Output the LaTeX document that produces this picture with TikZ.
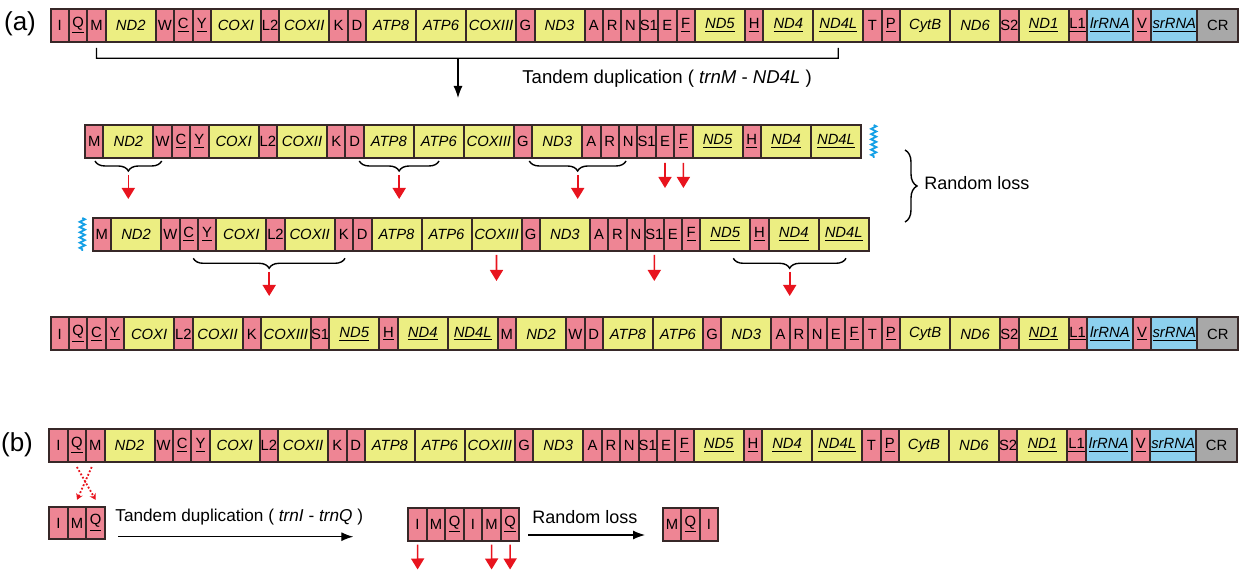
\documentclass[tikz,border=0pt]{standalone}
\usepackage{fontspec}
\setmainfont{Liberation Sans}
\usetikzlibrary{arrows,arrows.meta,positioning,decorations.pathreplacing,decorations.pathmorphing}
\definecolor{trnapink}{RGB}{238,133,148}
\definecolor{geneyellow}{RGB}{236,238,130}
\definecolor{rrnablue}{RGB}{140,208,238}
\definecolor{crgray}{RGB}{168,168,168}
\definecolor{border}{RGB}{55,40,40}
\definecolor{lossred}{RGB}{232,20,30}
\definecolor{zigblue}{RGB}{20,160,230}

\begin{document}
\begin{tikzpicture}[x=0.5pt,y=-0.5pt,node distance=0pt]
        \tikzset{box/.style = {draw=border,line width=1pt,minimum height=16.5pt,inner sep=0pt,outer sep=0pt,font=\fontsize{7.4}{8}\selectfont}}
        \tikzset{trna/.style = {box,fill=trnapink,minimum width=9.2pt}}
        \tikzset{gene/.style = {box,fill=geneyellow,minimum width=25pt,font=\fontsize{7.4}{8}\selectfont\itshape}}
        \tikzset{rrna/.style = {box,fill=rrnablue,minimum width=23pt,font=\fontsize{7.4}{8}\selectfont\itshape}}
        \tikzset{ctrl/.style = {box,fill=crgray,minimum width=20.5pt}}
        \tikzset{trnb/.style = {trna,minimum width=9.25pt,minimum height=16.2pt}}
        \tikzset{txt/.style = {anchor=west,inner sep=0pt,font=\fontsize{9}{10}\selectfont}}
        \tikzset{panel/.style = {inner sep=0pt,font=\fontsize{13}{15}\selectfont}}
        \tikzset{edge/.style = {-{Latex[width=4.5pt,length=6pt]},line width=0.6pt}}
        \tikzset{loss/.style = {-{Triangle[width=6.5pt,length=5.5pt]},draw=lossred,line width=0.8pt}}
        \tikzset{moved/.style = {-{Stealth[width=3.5pt,length=3pt]},draw=lossred,densely dotted,line width=0.9pt}}
        \tikzset{curly/.style = {decorate,decoration={brace,amplitude=5pt,mirror},line width=0.7pt}}
        \tikzset{bigcurly/.style = {decorate,decoration={brace,amplitude=6pt},line width=0.7pt}}
        \tikzset{zig/.style = {decorate,decoration={zigzag,segment length=2.6pt,amplitude=1.3pt},draw=zigblue,line width=0.9pt}}
        \useasboundingbox (0,0) rectangle (1239,572);
        % panel labels
        \node[panel] (pa) at (20,23.5) {(a)};
        \node[panel] (pb) at (17,444.5) {(b)};
        % genome (a)
        \node[trna,anchor=west] (a1) at (50.5,25.5) {I};
        \node[trna,right=of a1] (a2) {\underline{Q}};
        \node[trna,right=of a2] (a3) {M};
        \node[gene,right=of a3] (a4) {ND2};
        \node[trna,right=of a4] (a5) {W};
        \node[trna,right=of a5] (a6) {\underline{C}};
        \node[trna,right=of a6] (a7) {\underline{Y}};
        \node[gene,right=of a7] (a8) {COXI};
        \node[trna,right=of a8] (a9) {L2};
        \node[gene,right=of a9] (a10) {COXII};
        \node[trna,right=of a10] (a11) {K};
        \node[trna,right=of a11] (a12) {D};
        \node[gene,right=of a12] (a13) {ATP8};
        \node[gene,right=of a13] (a14) {ATP6};
        \node[gene,right=of a14] (a15) {COXIII};
        \node[trna,right=of a15] (a16) {G};
        \node[gene,right=of a16] (a17) {ND3};
        \node[trna,right=of a17] (a18) {A};
        \node[trna,right=of a18] (a19) {R};
        \node[trna,right=of a19] (a20) {N};
        \node[trna,right=of a20] (a21) {S1};
        \node[trna,right=of a21] (a22) {E};
        \node[trna,right=of a22] (a23) {\underline{F}};
        \node[gene,right=of a23] (a24) {\underline{ND5}};
        \node[trna,right=of a24] (a25) {\underline{H}};
        \node[gene,right=of a25] (a26) {\underline{ND4}};
        \node[gene,right=of a26] (a27) {\underline{ND4L}};
        \node[trna,right=of a27] (a28) {T};
        \node[trna,right=of a28] (a29) {\underline{P}};
        \node[gene,right=of a29] (a30) {CytB};
        \node[gene,right=of a30] (a31) {ND6};
        \node[trna,right=of a31] (a32) {S2};
        \node[gene,right=of a32] (a33) {\underline{ND1}};
        \node[trna,right=of a33] (a34) {\underline{L1}};
        \node[rrna,right=of a34] (a35) {\underline{lrRNA}};
        \node[trna,right=of a35] (a36) {\underline{V}};
        \node[rrna,right=of a36] (a37) {\underline{srRNA}};
        \node[ctrl,right=of a37] (a38) {CR};
        % duplicated copy, first half
        \node[trna,anchor=west] (d1) at (85,141.3) {M};
        \node[gene,right=of d1] (d2) {ND2};
        \node[trna,right=of d2] (d3) {W};
        \node[trna,right=of d3] (d4) {\underline{C}};
        \node[trna,right=of d4] (d5) {\underline{Y}};
        \node[gene,right=of d5] (d6) {COXI};
        \node[trna,right=of d6] (d7) {L2};
        \node[gene,right=of d7] (d8) {COXII};
        \node[trna,right=of d8] (d9) {K};
        \node[trna,right=of d9] (d10) {D};
        \node[gene,right=of d10] (d11) {ATP8};
        \node[gene,right=of d11] (d12) {ATP6};
        \node[gene,right=of d12] (d13) {COXIII};
        \node[trna,right=of d13] (d14) {G};
        \node[gene,right=of d14] (d15) {ND3};
        \node[trna,right=of d15] (d16) {A};
        \node[trna,right=of d16] (d17) {R};
        \node[trna,right=of d17] (d18) {N};
        \node[trna,right=of d18] (d19) {S1};
        \node[trna,right=of d19] (d20) {E};
        \node[trna,right=of d20] (d21) {\underline{F}};
        \node[gene,right=of d21] (d22) {\underline{ND5}};
        \node[trna,right=of d22] (d23) {\underline{H}};
        \node[gene,right=of d23] (d24) {\underline{ND4}};
        \node[gene,right=of d24] (d25) {\underline{ND4L}};
        % duplicated copy, second half
        \node[trna,anchor=west] (e1) at (92.7,234.5) {M};
        \node[gene,right=of e1] (e2) {ND2};
        \node[trna,right=of e2] (e3) {W};
        \node[trna,right=of e3] (e4) {\underline{C}};
        \node[trna,right=of e4] (e5) {\underline{Y}};
        \node[gene,right=of e5] (e6) {COXI};
        \node[trna,right=of e6] (e7) {L2};
        \node[gene,right=of e7] (e8) {COXII};
        \node[trna,right=of e8] (e9) {K};
        \node[trna,right=of e9] (e10) {D};
        \node[gene,right=of e10] (e11) {ATP8};
        \node[gene,right=of e11] (e12) {ATP6};
        \node[gene,right=of e12] (e13) {COXIII};
        \node[trna,right=of e13] (e14) {G};
        \node[gene,right=of e14] (e15) {ND3};
        \node[trna,right=of e15] (e16) {A};
        \node[trna,right=of e16] (e17) {R};
        \node[trna,right=of e17] (e18) {N};
        \node[trna,right=of e18] (e19) {S1};
        \node[trna,right=of e19] (e20) {E};
        \node[trna,right=of e20] (e21) {\underline{F}};
        \node[gene,right=of e21] (e22) {\underline{ND5}};
        \node[trna,right=of e22] (e23) {\underline{H}};
        \node[gene,right=of e23] (e24) {\underline{ND4}};
        \node[gene,right=of e24] (e25) {\underline{ND4L}};
        % rearranged genome
        \node[trna,anchor=west] (n1) at (50.5,334) {I};
        \node[trna,right=of n1] (n2) {\underline{Q}};
        \node[trna,right=of n2] (n3) {\underline{C}};
        \node[trna,right=of n3] (n4) {\underline{Y}};
        \node[gene,right=of n4] (n5) {COXI};
        \node[trna,right=of n5] (n6) {L2};
        \node[gene,right=of n6] (n7) {COXII};
        \node[trna,right=of n7] (n8) {K};
        \node[gene,right=of n8] (n9) {COXIII};
        \node[trna,right=of n9] (n10) {S1};
        \node[gene,right=of n10] (n11) {\underline{ND5}};
        \node[trna,right=of n11] (n12) {\underline{H}};
        \node[gene,right=of n12] (n13) {\underline{ND4}};
        \node[gene,right=of n13] (n14) {\underline{ND4L}};
        \node[trna,right=of n14] (n15) {M};
        \node[gene,right=of n15] (n16) {ND2};
        \node[trna,right=of n16] (n17) {W};
        \node[trna,right=of n17] (n18) {D};
        \node[gene,right=of n18] (n19) {ATP8};
        \node[gene,right=of n19] (n20) {ATP6};
        \node[trna,right=of n20] (n21) {G};
        \node[gene,right=of n21] (n22) {ND3};
        \node[trna,right=of n22] (n23) {A};
        \node[trna,right=of n23] (n24) {R};
        \node[trna,right=of n24] (n25) {N};
        \node[trna,right=of n25] (n26) {E};
        \node[trna,right=of n26] (n27) {\underline{F}};
        \node[trna,right=of n27] (n28) {T};
        \node[trna,right=of n28] (n29) {\underline{P}};
        \node[gene,right=of n29] (n30) {CytB};
        \node[gene,right=of n30] (n31) {ND6};
        \node[trna,right=of n31] (n32) {S2};
        \node[gene,right=of n32] (n33) {\underline{ND1}};
        \node[trna,right=of n33] (n34) {\underline{L1}};
        \node[rrna,right=of n34] (n35) {\underline{lrRNA}};
        \node[trna,right=of n35] (n36) {\underline{V}};
        \node[rrna,right=of n36] (n37) {\underline{srRNA}};
        \node[ctrl,right=of n37] (n38) {CR};
        % genome (b)
        \node[trna,anchor=west] (b1) at (49.3,445.5) {I};
        \node[trna,right=of b1] (b2) {\underline{Q}};
        \node[trna,right=of b2] (b3) {M};
        \node[gene,right=of b3] (b4) {ND2};
        \node[trna,right=of b4] (b5) {W};
        \node[trna,right=of b5] (b6) {\underline{C}};
        \node[trna,right=of b6] (b7) {\underline{Y}};
        \node[gene,right=of b7] (b8) {COXI};
        \node[trna,right=of b8] (b9) {L2};
        \node[gene,right=of b9] (b10) {COXII};
        \node[trna,right=of b10] (b11) {K};
        \node[trna,right=of b11] (b12) {D};
        \node[gene,right=of b12] (b13) {ATP8};
        \node[gene,right=of b13] (b14) {ATP6};
        \node[gene,right=of b14] (b15) {COXIII};
        \node[trna,right=of b15] (b16) {G};
        \node[gene,right=of b16] (b17) {ND3};
        \node[trna,right=of b17] (b18) {A};
        \node[trna,right=of b18] (b19) {R};
        \node[trna,right=of b19] (b20) {N};
        \node[trna,right=of b20] (b21) {S1};
        \node[trna,right=of b21] (b22) {E};
        \node[trna,right=of b22] (b23) {\underline{F}};
        \node[gene,right=of b23] (b24) {\underline{ND5}};
        \node[trna,right=of b24] (b25) {\underline{H}};
        \node[gene,right=of b25] (b26) {\underline{ND4}};
        \node[gene,right=of b26] (b27) {\underline{ND4L}};
        \node[trna,right=of b27] (b28) {T};
        \node[trna,right=of b28] (b29) {\underline{P}};
        \node[gene,right=of b29] (b30) {CytB};
        \node[gene,right=of b30] (b31) {ND6};
        \node[trna,right=of b31] (b32) {S2};
        \node[gene,right=of b32] (b33) {\underline{ND1}};
        \node[trna,right=of b33] (b34) {\underline{L1}};
        \node[rrna,right=of b34] (b35) {\underline{lrRNA}};
        \node[trna,right=of b35] (b36) {\underline{V}};
        \node[rrna,right=of b36] (b37) {\underline{srRNA}};
        \node[ctrl,right=of b37] (b38) {CR};
        % tRNA cluster steps (b)
        \node[trnb,anchor=west] (s1) at (49.3,523) {I};
        \node[trnb,right=of s1] (s2) {M};
        \node[trnb,right=of s2] (s3) {\underline{Q}};
        \node[trnb,anchor=west] (t1) at (408.3,524.5) {I};
        \node[trnb,right=of t1] (t2) {M};
        \node[trnb,right=of t2] (t3) {\underline{Q}};
        \node[trnb,right=of t3] (t4) {I};
        \node[trnb,right=of t4] (t5) {M};
        \node[trnb,right=of t5] (t6) {\underline{Q}};
        \node[trnb,anchor=west] (u1) at (662.7,524.5) {M};
        \node[trnb,right=of u1] (u2) {\underline{Q}};
        \node[trnb,right=of u2] (u3) {I};
        % texts
        \node[txt,font=\fontsize{9.3}{10}\selectfont] (ta) at (522,79) {Tandem duplication ( \textit{trnM} - \textit{ND4L} )};
        \node[txt] (la) at (924,183) {Random loss};
        \node[txt,font=\fontsize{8.6}{10}\selectfont] (tb) at (115,517) {Tandem duplication ( \textit{trnI} - \textit{trnQ} )};
        \node[txt] (lb) at (532,517) {Random loss};
        % free ends
        \coordinate (m1) at (96.5,58.3);
        \coordinate (m2) at (838.3,58.3);
        \coordinate (m3) at (458,58.3);
        \coordinate (m4) at (458,98);
        \coordinate (k1) at (128.3,175);
        \coordinate (k1e) at (128.3,199);
        \coordinate (k2) at (399.2,175);
        \coordinate (k2e) at (399.2,199);
        \coordinate (k3) at (577.7,175);
        \coordinate (k3e) at (577.7,199);
        \coordinate (k4) at (269.2,272);
        \coordinate (k4e) at (269.2,296);
        \coordinate (k5) at (789.7,272);
        \coordinate (k5e) at (789.7,296);
        \coordinate (x1) at (665,188);
        \coordinate (x2) at (683.4,188);
        \coordinate (x3) at (496.5,281);
        \coordinate (x4) at (654.3,281);
        \coordinate (y1) at (417.6,569.5);
        \coordinate (y2) at (491.6,569.5);
        \coordinate (y3) at (510.1,569.5);
        \coordinate (p1) at (118.3,536.7);
        \coordinate (p2) at (353.3,536.7);
        \coordinate (p3) at (528.3,535);
        \coordinate (p4) at (645,535);
        % braces and breaks
        \draw[curly] (95,161) -- (161.7,161);
        \draw[curly] (359.3,161) -- (439,161);
        \draw[curly] (529.3,161) -- (626,161);
        \draw[curly] (193.3,258.3) -- (345,258.3);
        \draw[curly] (733.3,258.3) -- (846,258.3);
        \draw[bigcurly] (905,150) -- (905,222);
        \draw[zig] (873.7,125) -- (873.7,158);
        \draw[zig] (82.3,218) -- (82.3,251);
        %edges
        \draw[line width=0.6pt] ([yshift=-3pt]a3.south) -- (m1) -- (m2) -- ([yshift=-3pt]a27.south);
        \draw[edge] (m3) -- (m4);
        \draw[loss] (k1) -- (k1e);
        \draw[loss] (k2) -- (k2e);
        \draw[loss] (k3) -- (k3e);
        \draw[loss] (k4) -- (k4e);
        \draw[loss] (k5) -- (k5e);
        \draw[loss,shorten <=2.5pt] (d20) -- (x1);
        \draw[loss,shorten <=2.5pt] (d21) -- (x2);
        \draw[loss,shorten <=2pt] (e13) -- (x3);
        \draw[loss,shorten <=2pt] (e19) -- (x4);
        \draw[moved] ([yshift=-2.5pt]b2.south) -- ([yshift=3.5pt]s3.north);
        \draw[moved] ([xshift=-1.8pt,yshift=-2.5pt]b3.south) -- ([yshift=3.5pt]s2.north);
        \draw[edge] (p1) -- (p2);
        \draw[edge] (p3) -- (p4);
        \draw[loss,shorten <=2pt] (t1) -- (y1);
        \draw[loss,shorten <=2pt] (t5) -- (y2);
        \draw[loss,shorten <=2pt] (t6) -- (y3);

    \end{tikzpicture}
\end{document}
